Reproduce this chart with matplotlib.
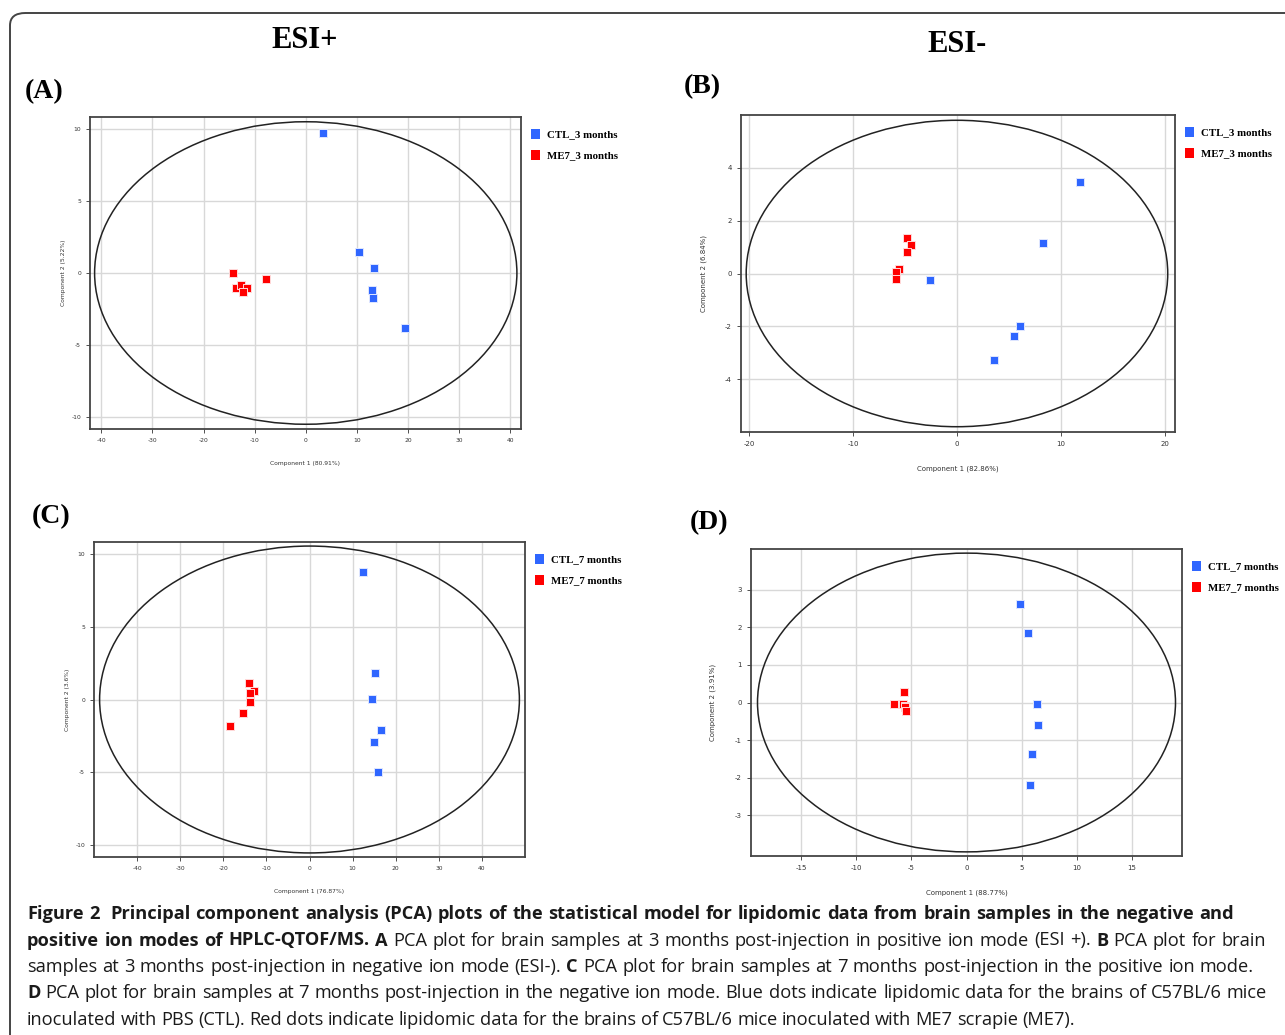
import numpy as np
import matplotlib.pyplot as plt
from matplotlib.patches import Ellipse, FancyBboxPatch

plt.rcParams["axes.unicode_minus"] = False

W, H = 1285, 1035

# ---- data ----
a_ctl_x = [3.4, 10.4, 13.4, 12.9, 13.2, 19.4]
a_ctl_y = [9.7, 1.43, 0.32, -1.18, -1.76, -3.82]
a_me7_x = [-14.2, -13.7, -12.7, -11.5, -12.2, -7.7]
a_me7_y = [0.0, -1.04, -0.86, -1.04, -1.32, -0.39]

b_ctl_x = [11.85, 8.3, -2.57, 6.07, 5.5, 3.56]
b_ctl_y = [3.46, 1.14, -0.25, -2.0, -2.35, -3.27]
b_me7_x = [-4.78, -4.46, -4.85, -5.59, -5.9, -5.9]
b_me7_y = [1.35, 1.09, 0.8, 0.16, 0.06, -0.21]

c_ctl_x = [12.4, 15.2, 14.4, 16.5, 14.9, 15.9]
c_ctl_y = [8.81, 1.83, 0.02, -2.08, -2.95, -5.01]
c_me7_x = [-14.0, -12.8, -13.9, -13.8, -15.5, -18.5]
c_me7_y = [1.17, 0.62, 0.46, -0.18, -0.96, -1.81]

d_ctl_x = [4.89, 5.55, 6.4, 6.52, 5.92, 5.73]
d_ctl_y = [2.63, 1.85, -0.03, -0.61, -1.38, -2.2]
d_me7_x = [-5.67, -6.55, -5.73, -5.6, -5.58, -5.46]
d_me7_y = [0.27, -0.03, -0.04, -0.08, -0.13, -0.22]

pc1 = ["80.91%", "82.86%", "76.87%", "88.77%"]
pc2 = ["5.22%", "6.84%", "3.6%", "3.91%"]
months = ["3", "3", "7", "7"]

BLUE = "#2f66ff"
RED = "#ff0000"

fig = plt.figure(figsize=(W / 100, H / 100), dpi=100)


def px_axes(left, top, right, bottom):
    return fig.add_axes([left / W, 1 - bottom / H, (right - left) / W, (bottom - top) / H])


def pca_panel(ax, ctl, me7, xlim, ylim, ell, xt, yt, i, fs, ylab_x):
    ax.set_xlim(*xlim)
    ax.set_ylim(*ylim)
    ax.set_xticks(xt)
    ax.set_yticks(yt)
    ax.grid(color="#d8d8d8", lw=1.0)
    ax.set_axisbelow(True)
    for s in ax.spines.values():
        s.set_color("#444444")
        s.set_linewidth(1.3)
    ax.tick_params(labelsize=fs, colors="#333333", length=3, width=0.6)
    ax.add_patch(Ellipse((0, 0), 2 * ell[0], 2 * ell[1], fill=False,
                         ec="#222222", lw=1.1, zorder=2))
    ax.scatter(*ctl, marker="s", s=36, c=BLUE, edgecolors="#dfe6ff",
               linewidths=0.7, zorder=3, label=f"CTL_{months[i]} months")
    ax.scatter(*me7, marker="s", s=36, c=RED, edgecolors="#ffdada",
               linewidths=0.7, zorder=3, label=f"ME7_{months[i]} months")
    ax.set_xlabel(f"Component 1 ({pc1[i]})", fontsize=fs, color="#333333", labelpad=13)
    ax.set_ylabel(f"Component 2 ({pc2[i]})", fontsize=fs, color="#333333")
    ax.yaxis.set_label_coords(ylab_x, 0.5)
    leg = ax.legend(loc="upper left", bbox_to_anchor=(0.997, 1.0), frameon=False,
                    markerscale=1.15, handlelength=0.6, handletextpad=0.75,
                    labelspacing=1.05, borderpad=0.65,
                    prop={"family": "Liberation Serif", "weight": "bold", "size": 7.8})
    for h in leg.legend_handles:
        h.set_edgecolor("none")


axA = px_axes(90, 117, 521, 429)
pca_panel(axA, (a_ctl_x, a_ctl_y), (a_me7_x, a_me7_y), (-42.2, 42.1), (-10.83, 10.83),
          (41.3, 10.5), np.arange(-40, 41, 10), [-10, -5, 0, 5, 10], 0, 4.3, -0.055)
axB = px_axes(741, 115, 1175, 432)
pca_panel(axB, (b_ctl_x, b_ctl_y), (b_me7_x, b_me7_y), (-20.8, 21.0), (-6.0, 6.0),
          (20.3, 5.8), np.arange(-20, 21, 10), [-4, -2, 0, 2, 4], 1, 5.0, -0.078)
axC = px_axes(94, 542, 525, 857)
pca_panel(axC, (c_ctl_x, c_ctl_y), (c_me7_x, c_me7_y), (-50, 50), (-10.85, 10.85),
          (48.7, 10.57), np.arange(-40, 41, 10), [-10, -5, 0, 5, 10], 2, 4.3, -0.055)
axD = px_axes(751, 549, 1182, 856)
pca_panel(axD, (d_ctl_x, d_ctl_y), (d_me7_x, d_me7_y), (-19.55, 19.55), (-4.09, 4.09),
          (18.96, 3.98), np.arange(-15, 16, 5), [-3, -2, -1, 0, 1, 2, 3], 3, 5.0, -0.081)

# ---- headings and panel letters ----
serif = {"family": "Liberation Serif", "weight": "bold"}
fig.text(305 / W, 1 - 41 / H, "ESI+", fontsize=22, ha="center", va="center", **serif)
fig.text(957 / W, 1 - 45 / H, "ESI-", fontsize=22, ha="center", va="center", **serif)
for lab, x, y in [("(A)", 25, 92), ("(B)", 684, 87), ("(C)", 32, 517), ("(D)", 690, 523)]:
    fig.text(x / W, 1 - y / H, lab, fontsize=20, ha="left", va="center", **serif)

# frame around the figure (clipped on right/bottom as in the source)
fig.patches.append(FancyBboxPatch((10 / W, -0.05), 1.1, 1 - 13 / H + 0.05,
                                  boxstyle="round,pad=0,rounding_size=0.012",
                                  transform=fig.transFigure, fill=False,
                                  ec="#444444", lw=1.4))

# ---- caption ----
cap_lines = [
    [("Figure 2  Principal component analysis (PCA) plots of the statistical model for lipidomic data from brain samples in the negative and", True)],
    [("positive ion modes of HPLC-QTOF/MS. A", True),
     ("PCA plot for brain samples at 3 months post-injection in positive ion mode (ESI +).", False),
     ("B", True), ("PCA plot for brain", False)],
    [("samples at 3 months post-injection in negative ion mode (ESI-).", False),
     ("C", True), ("PCA plot for brain samples at 7 months post-injection in the positive ion mode.", False)],
    [("D", True),
     ("PCA plot for brain samples at 7 months post-injection in the negative ion mode. Blue dots indicate lipidomic data for the brains of C57BL/6 mice", False)],
    [("inoculated with PBS (CTL). Red dots indicate lipidomic data for the brains of C57BL/6 mice inoculated with ME7 scrapie (ME7).", False)],
]
cap_right = [1234, 1266, 1254, 1267, None]
cap_base = [919, 945.5, 972, 998.5, 1025]
CAP_FONT = "Open Sans"
renderer = fig.canvas.get_renderer()

# size the caption so the last (ragged) line ends where it does in the source
probe = fig.text(0, 0, cap_lines[-1][0][0], fontsize=10, family=CAP_FONT)
CAP_SIZE = 10 * (1087 - 27) / probe.get_window_extent(renderer).width
probe.remove()

x0 = 27
for tokens, right, yb in zip(cap_lines, cap_right, cap_base):
    words = []
    for seg, bold in tokens:
        words += [(w, bold) for w in seg.split(" ")]
    arts = [fig.text(0, 1 - yb / H, w, fontsize=CAP_SIZE, family=CAP_FONT,
                     weight="bold" if b else "normal", va="baseline", color="#1a1a1a")
            for w, b in words]
    widths = [t.get_window_extent(renderer).width if t.get_text() else 0 for t in arts]
    sp = CAP_SIZE * 0.23 * 100 / 72
    if right is not None and len(arts) > 1:
        sp = (right - x0 - sum(widths)) / (len(arts) - 1)
    x = x0
    for t, w in zip(arts, widths):
        t.set_x(x / W)
        x += w + sp

fig.savefig("out.png", dpi=100)
